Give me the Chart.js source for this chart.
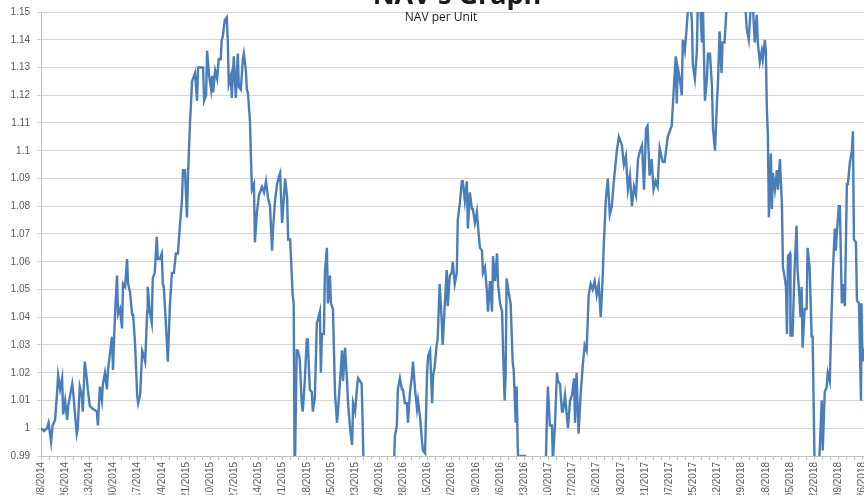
<!DOCTYPE html>
<html lang="en">
<head>
<meta charset="UTF-8">
<title>NAV's Graph</title>
<script src="https://cdn.jsdelivr.net/npm/chart.js"></script>
<style>
    html, body { margin: 0; padding: 0; background: #fff; overflow: hidden; }
    #chart-box { position: relative; width: 864px; height: 495px; }
</style>
</head>
<body>
<div id="chart-box"><canvas id="nav-chart"></canvas></div>
<script>
    const chartTitle = "NAV's Graph";
    const seriesName = 'NAV per Unit';

    // days counted from 4/8/2014 (first point of the series)
    const navDays = [
        0, 6, 12, 15, 18, 20, 23, 28, 32, 34,
        38, 42, 44, 48, 52, 54, 58, 62, 64, 68,
        71, 73, 77, 81, 83, 87, 91, 93, 97, 103,
        111, 113, 117, 121, 123, 127, 131, 133, 137, 141,
        143, 147, 151, 153, 157, 161, 163, 167, 171, 173,
        177, 181, 183, 187, 191, 193, 197, 201, 203, 207,
        211, 212, 216, 220, 222, 226, 230, 232, 236, 240,
        242, 244, 248, 252, 256, 260, 264, 268, 272, 276,
        280, 282, 286, 290, 292, 296, 298, 300, 302, 306,
        310, 312, 322, 324, 328, 330, 334, 338, 340, 342,
        346, 350, 353, 357, 359, 361, 365, 369, 371, 373,
        377, 379, 383, 387, 391, 393, 397, 401, 403, 407,
        409, 411, 415, 417, 419, 423, 425, 429, 433, 439,
        443, 447, 451, 455, 459, 461, 465, 469, 473, 475,
        479, 481, 485, 489, 491, 495, 498, 500, 502, 504,
        508, 510, 514, 518, 520, 524, 528, 530, 534, 538,
        540, 544, 548, 550, 554, 556, 558, 562, 564, 568,
        570, 574, 576, 580, 584, 588, 590, 594, 598, 600,
        604, 608, 610, 614, 618, 620, 624, 628, 630, 634,
        637, 639, 641, 653, 673, 693, 701, 703, 707, 709,
        713, 717, 719, 723, 727, 729, 733, 737, 739, 743,
        747, 749, 753, 757, 759, 763, 767, 769, 773, 777,
        779, 782, 786, 788, 792, 796, 798, 802, 806, 808,
        812, 816, 818, 822, 826, 828, 832, 836, 838, 842,
        846, 848, 852, 856, 858, 862, 866, 868, 872, 876,
        878, 882, 886, 888, 892, 896, 898, 902, 906, 908,
        912, 916, 918, 921, 923, 925, 929, 933, 937, 939,
        943, 945, 947, 949, 953, 961, 971, 991, 1001, 1003,
        1005, 1007, 1011, 1015, 1017, 1021, 1025, 1027, 1031, 1035,
        1037, 1041, 1045, 1047, 1051, 1055, 1059, 1061, 1064, 1068,
        1072, 1076, 1080, 1084, 1088, 1092, 1096, 1100, 1104, 1108,
        1112, 1116, 1118, 1122, 1126, 1130, 1134, 1138, 1144, 1148,
        1154, 1158, 1162, 1166, 1170, 1174, 1178, 1182, 1186, 1190,
        1194, 1198, 1202, 1205, 1209, 1213, 1217, 1221, 1225, 1229,
        1235, 1239, 1245, 1253, 1257, 1261, 1263, 1265, 1269, 1273,
        1275, 1279, 1283, 1285, 1289, 1293, 1295, 1299, 1303, 1305,
        1309, 1313, 1315, 1319, 1323, 1325, 1329, 1333, 1335, 1339,
        1343, 1345, 1348, 1352, 1354, 1358, 1362, 1368, 1378, 1388,
        1396, 1400, 1402, 1406, 1410, 1414, 1418, 1422, 1424, 1428,
        1432, 1434, 1438, 1440, 1442, 1444, 1446, 1450, 1452, 1454,
        1458, 1462, 1464, 1468, 1472, 1474, 1476, 1480, 1482, 1484,
        1488, 1489, 1491, 1493, 1497, 1501, 1503, 1505, 1509, 1511,
        1513, 1517, 1521, 1523, 1527, 1531, 1533, 1535, 1537, 1541,
        1545, 1547, 1551, 1553, 1557, 1561, 1563, 1567, 1571, 1573,
        1577, 1579, 1581, 1585, 1587, 1591, 1593, 1597, 1601, 1603,
        1607, 1611, 1613, 1615, 1619, 1621, 1625, 1629, 1630, 1632, 1638
    ];

    const navValues = [
        1.000, 0.999, 1.000, 1.002, 0.998, 0.995, 1.001, 1.003, 1.013, 1.019,
        1.014, 1.018, 1.005, 1.010, 1.003, 1.008, 1.012, 1.016, 1.013, 1.004,
        0.998, 1.000, 1.015, 1.012, 1.006, 1.024, 1.018, 1.014, 1.008, 1.007,
        1.006, 1.001, 1.015, 1.010, 1.016, 1.020, 1.014, 1.021, 1.027, 1.033,
        1.021, 1.041, 1.055, 1.041, 1.043, 1.036, 1.052, 1.051, 1.061, 1.052,
        1.049, 1.041, 1.041, 1.030, 1.012, 1.009, 1.012, 1.028, 1.027, 1.024,
        1.042, 1.051, 1.042, 1.038, 1.054, 1.056, 1.069, 1.061, 1.061, 1.063,
        1.052, 1.051, 1.038, 1.024, 1.044, 1.056, 1.056, 1.063, 1.063, 1.073,
        1.082, 1.093, 1.093, 1.076, 1.091, 1.110, 1.117, 1.125, 1.126, 1.128,
        1.118, 1.130, 1.130, 1.118, 1.120, 1.136, 1.127, 1.122, 1.127, 1.121,
        1.129, 1.126, 1.133, 1.133, 1.140, 1.141, 1.147, 1.148, 1.140, 1.124,
        1.127, 1.119, 1.134, 1.119, 1.135, 1.123, 1.122, 1.133, 1.135, 1.129,
        1.122, 1.121, 1.111, 1.098, 1.086, 1.088, 1.067, 1.078, 1.084, 1.087,
        1.085, 1.089, 1.083, 1.080, 1.064, 1.072, 1.082, 1.088, 1.091, 1.092,
        1.074, 1.079, 1.090, 1.083, 1.068, 1.068, 1.056, 1.048, 1.045, 0.980,
        1.028, 1.028, 1.025, 1.009, 1.006, 1.017, 1.032, 1.032, 1.014, 1.013,
        1.006, 1.011, 1.038, 1.039, 1.042, 1.020, 1.034, 1.034, 1.056, 1.065,
        1.045, 1.055, 1.045, 1.043, 1.013, 1.002, 1.006, 1.017, 1.028, 1.017,
        1.029, 1.017, 1.009, 1.000, 0.994, 1.009, 1.006, 1.015, 1.018, 1.017,
        1.016, 1.002, 0.985, 0.975, 0.970, 0.978, 0.985, 0.997, 1.001, 1.014,
        1.018, 1.014, 1.014, 1.009, 1.009, 1.002, 1.013, 1.019, 1.024, 1.014,
        1.007, 1.010, 1.004, 0.995, 0.992, 0.991, 1.020, 1.026, 1.028, 1.009,
        1.019, 1.022, 1.030, 1.032, 1.052, 1.039, 1.030, 1.044, 1.057, 1.044,
        1.055, 1.056, 1.060, 1.052, 1.056, 1.075, 1.081, 1.089, 1.089, 1.082,
        1.089, 1.072, 1.085, 1.079, 1.079, 1.074, 1.078, 1.073, 1.065, 1.064,
        1.056, 1.058, 1.049, 1.042, 1.053, 1.042, 1.062, 1.053, 1.063, 1.052,
        1.045, 1.042, 1.028, 1.010, 1.019, 1.054, 1.049, 1.045, 1.024, 1.021,
        1.002, 1.015, 0.994, 0.985, 0.990, 0.990, 0.975, 0.975, 0.985, 0.988,
        1.004, 1.015, 1.001, 1.001, 0.988, 1.001, 1.020, 1.017, 1.016, 1.006,
        1.006, 1.012, 1.004, 1.000, 1.010, 1.012, 1.018, 1.002, 1.020, 0.998,
        1.012, 1.022, 1.030, 1.028, 1.048, 1.052, 1.050, 1.053, 1.048, 1.052,
        1.040, 1.055, 1.066, 1.082, 1.090, 1.077, 1.080, 1.089, 1.100, 1.105,
        1.102, 1.095, 1.098, 1.086, 1.091, 1.080, 1.087, 1.084, 1.097, 1.100,
        1.102, 1.086, 1.108, 1.109, 1.091, 1.097, 1.086, 1.089, 1.087, 1.101,
        1.096, 1.096, 1.105, 1.109, 1.122, 1.134, 1.117, 1.130, 1.126, 1.120,
        1.140, 1.136, 1.145, 1.150, 1.156, 1.147, 1.131, 1.126, 1.136, 1.155,
        1.155, 1.139, 1.152, 1.118, 1.126, 1.135, 1.135, 1.123, 1.108, 1.100,
        1.118, 1.125, 1.143, 1.128, 1.139, 1.139, 1.152, 1.160, 1.165, 1.162,
        1.155, 1.150, 1.144, 1.140, 1.152, 1.153, 1.139, 1.149, 1.139, 1.132,
        1.136, 1.133, 1.140, 1.136, 1.115, 1.106, 1.076, 1.099, 1.079, 1.092,
        1.086, 1.093, 1.086, 1.097, 1.080, 1.058, 1.056, 1.051, 1.034, 1.062,
        1.063, 1.033, 1.037, 1.033, 1.057, 1.073, 1.057, 1.052, 1.040, 1.051,
        1.029, 1.043, 1.043, 1.065, 1.058, 1.033, 1.033, 1.008, 0.985, 0.980,
        0.985, 0.992, 1.010, 0.992, 1.013, 1.015, 1.020, 1.017, 1.044, 1.056,
        1.072, 1.064, 1.070, 1.080, 1.080, 1.045, 1.052, 1.044, 1.088, 1.088,
        1.096, 1.100, 1.107, 1.068, 1.067, 1.046, 1.045, 1.010, 1.045, 1.024, 1.030
    ];

    // date labels, one every 48 days starting 4/8/2014
    const dateLabels = [
        '4/8/2014', '5/26/2014', '7/13/2014', '8/30/2014', '10/17/2014', '12/4/2014',
        '1/21/2015', '3/10/2015', '4/27/2015', '6/14/2015', '8/1/2015', '9/18/2015',
        '11/5/2015', '12/23/2015', '2/9/2016', '3/28/2016', '5/15/2016', '7/2/2016',
        '8/19/2016', '10/6/2016', '11/23/2016', '1/10/2017', '2/27/2017', '4/16/2017',
        '06/03/2017', '07/21/2017', '09/07/2017', '10/25/2017', '12/12/2017', '01/29/2018',
        '03/18/2018', '05/05/2018', '06/22/2018', '08/09/2018', '09/26/2018'
    ];

    const yTickValues = [0.99, 1.00, 1.01, 1.02, 1.03, 1.04, 1.05, 1.06, 1.07, 1.08,
        1.09, 1.10, 1.11, 1.12, 1.13, 1.14, 1.15];
    const yTickLabels = ['0.99', '1', '1.01', '1.02', '1.03', '1.04', '1.05', '1.06', '1.07', '1.08',
        '1.09', '1.1', '1.11', '1.12', '1.13', '1.14', '1.15'];

    const points = navDays.map((d, i) => ({ x: d, y: navValues[i] }));

    // title sits mostly above the visible area, legend overlays the plot
    const headerText = {
        id: 'headerText',
        afterDraw(chart) {
            const ctx = chart.ctx;
            ctx.save();
            ctx.fillStyle = '#1a1a1a';
            ctx.textAlign = 'center';
            ctx.textBaseline = 'alphabetic';
            ctx.font = 'bold 27px "Open Sans"';
            ctx.fillText(chartTitle, 457, 4);
            ctx.font = '12px "Open Sans"';
            ctx.textBaseline = 'middle';
            ctx.fillText(seriesName, 441, 18);
            ctx.restore();
        }
    };

    const tickFont = { family: '"Liberation Sans", Arial, sans-serif', size: 10 };

    new Chart(document.getElementById('nav-chart'), {
        type: 'line',
        data: {
            datasets: [{
                label: seriesName,
                data: points,
                borderColor: '#4a7ebb',
                borderWidth: 2.4,
                pointRadius: 0,
                fill: false,
                tension: 0,
                clip: 0
            }]
        },
        options: {
            responsive: true,
            maintainAspectRatio: false,
            devicePixelRatio: 1,
            animation: false,
            parsing: false,
            layout: { padding: { top: 12, left: 0, right: 0, bottom: 0 } },
            plugins: {
                legend: { display: false },
                title: { display: false },
                tooltip: { enabled: false }
            },
            scales: {
                x: {
                    type: 'linear',
                    min: 0,
                    max: 1635,
                    grid: { drawOnChartArea: false, drawTicks: true, tickLength: 4, color: '#bfbfbf' },
                    border: { display: true, color: '#bfbfbf' },
                    ticks: {
                        stepSize: 16,
                        includeBounds: false,
                        autoSkip: false,
                        minRotation: 90,
                        maxRotation: 90,
                        padding: 2,
                        color: '#595959',
                        font: tickFont,
                        callback: (value) => value % 48 === 0 ? (dateLabels[value / 48] || '') : ''
                    },
                    afterFit: (scale) => {
                        scale.height = 39;
                        scale.paddingLeft = 0;
                        scale.paddingRight = 0;
                    }
                },
                y: {
                    min: 0.99,
                    max: 1.15,
                    grid: { color: '#d4d4d4', tickLength: 4 },
                    border: { display: true, color: '#bfbfbf' },
                    afterBuildTicks: (scale) => {
                        scale.ticks = yTickValues.map(v => ({ value: v }));
                    },
                    ticks: {
                        padding: 7,
                        color: '#595959',
                        font: tickFont,
                        callback: (value, index) => yTickLabels[index]
                    },
                    afterFit: (scale) => {
                        scale.width = 41;
                        scale.paddingTop = 0;
                        scale.paddingBottom = 0;
                    }
                }
            }
        },
        plugins: [headerText]
    });
</script>
</body>
</html>
